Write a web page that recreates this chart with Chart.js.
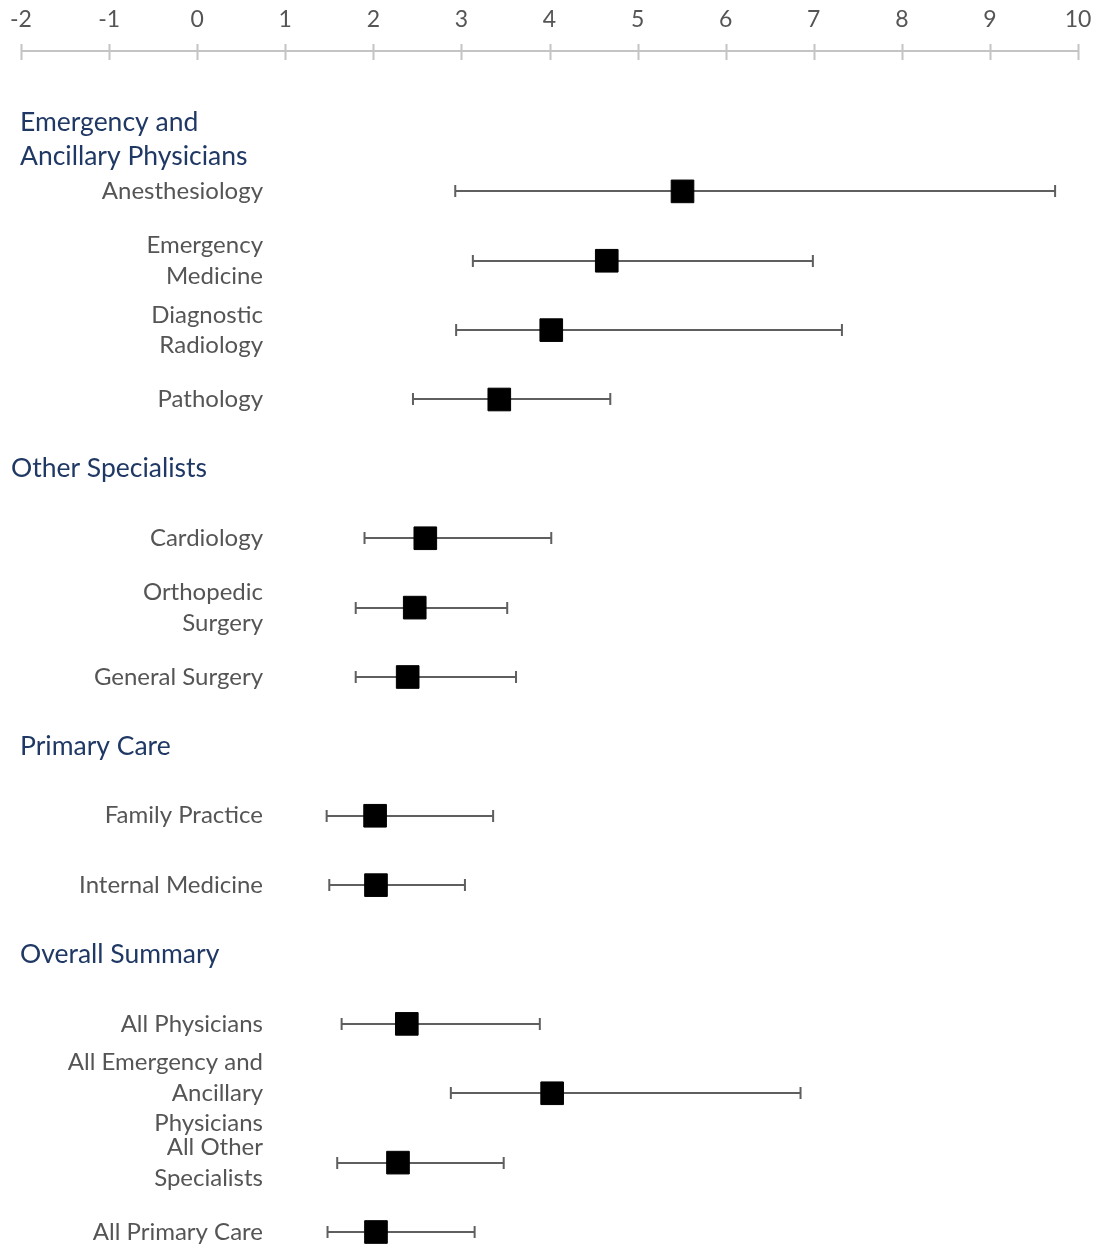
<!DOCTYPE html>
<html>
<head>
<meta charset="utf-8">
<script src="https://cdn.jsdelivr.net/npm/chart.js@4.4.1/dist/chart.umd.min.js"></script>
<style>
  html, body { margin: 0; padding: 0; background: #fff; overflow: hidden; }
  canvas { display: block; }
</style>
</head>
<body>
<canvas id="forest" width="1097" height="1249"></canvas>
<script>
// group headings, then the rows under each group
const groups = [
    ['Emergency and', 'Ancillary Physicians'],
    ['Other Specialists'],
    ['Primary Care'],
    ['Overall Summary']
];
const specialties = [
    ['Anesthesiology'],
    ['Emergency', 'Medicine'],
    ['Diagnostic', 'Radiology'],
    ['Pathology'],
    ['Cardiology'],
    ['Orthopedic', 'Surgery'],
    ['General Surgery'],
    ['Family Practice'],
    ['Internal Medicine'],
    ['All Physicians'],
    ['All Emergency and', 'Ancillary', 'Physicians'],
    ['All Other', 'Specialists'],
    ['All Primary Care']
];
const groupOf   = [0, 0, 0, 0, 1, 1, 1, 2, 2, 3, 3, 3, 3];
const estimates = [5.51, 4.65, 4.02, 3.43, 2.59, 2.47, 2.39, 2.02, 2.03, 2.38, 4.03, 2.28, 2.03];
const lower     = [2.93, 3.13, 2.94, 2.45, 1.90, 1.80, 1.80, 1.47, 1.50, 1.64, 2.88, 1.59, 1.48];
const upper     = [9.74, 6.99, 7.32, 4.69, 4.02, 3.52, 3.62, 3.36, 3.04, 3.89, 6.85, 3.48, 3.15];
const xTicks    = [-2, -1, 0, 1, 2, 3, 4, 5, 6, 7, 8, 9, 10];

const FONT = "Lato, 'Open Sans', sans-serif";
const GRAY_TXT = '#555555';
const NAVY = '#1f3864';

// slot index on the y scale: each group takes one slot for its heading
const headerSlot = [];
const rowSlot = [];
let slot = 0;
groups.forEach((g, gi) => {
    headerSlot.push(slot++);
    groupOf.forEach((v, i) => { if (v === gi) rowSlot[i] = slot++; });
});

// whiskers, caps, top axis and all the text on the left
const forestPlugin = {
    id: 'forest',
    beforeDatasetsDraw(chart) {
        const { ctx, scales: { x, y }, chartArea } = chart;
        ctx.save();

        // axis line with ticks crossing it
        const axY = chartArea.top;
        ctx.strokeStyle = '#c4c4c4';
        ctx.lineWidth = 2;
        ctx.beginPath();
        ctx.moveTo(x.getPixelForValue(-2), axY);
        ctx.lineTo(x.getPixelForValue(10), axY);
        xTicks.forEach(t => {
            const px = Math.round(x.getPixelForValue(t)) + 0.5;
            ctx.moveTo(px, axY - 7);
            ctx.lineTo(px, axY + 9);
        });
        ctx.stroke();

        // error bars
        ctx.strokeStyle = '#5f5f5f';
        ctx.lineWidth = 2;
        estimates.forEach((v, i) => {
            const py = Math.round(y.getPixelForValue(rowSlot[i]));
            const x0 = x.getPixelForValue(lower[i]);
            const x1 = x.getPixelForValue(upper[i]);
            ctx.beginPath();
            ctx.moveTo(x0, py);
            ctx.lineTo(x1, py);
            ctx.moveTo(x0, py - 6);
            ctx.lineTo(x0, py + 6);
            ctx.moveTo(x1, py - 6);
            ctx.lineTo(x1, py + 6);
            ctx.stroke();
        });

        // row labels, right aligned
        ctx.fillStyle = GRAY_TXT;
        ctx.font = `24px ${FONT}`;
        ctx.textAlign = 'right';
        ctx.textBaseline = 'middle';
        const lh = 30.5;
        specialties.forEach((lines, i) => {
            const cy = y.getPixelForValue(rowSlot[i]);
            const start = cy - (lines.length - 1) * lh / 2;
            lines.forEach((t, k) => ctx.fillText(t, 263, start + k * lh));
        });

        // group headings, first line on the slot
        ctx.fillStyle = NAVY;
        ctx.font = `26.5px ${FONT}`;
        ctx.textAlign = 'left';
        groups.forEach((lines, gi) => {
            const cy = y.getPixelForValue(headerSlot[gi]);
            lines.forEach((t, k) => ctx.fillText(t, gi === 1 ? 11 : 20, cy + k * 34));
        });

        ctx.restore();
    }
};

const ctx = document.getElementById('forest').getContext('2d');

new Chart(ctx, {
    type: 'scatter',
    plugins: [forestPlugin],
    data: {
        datasets: [{
            label: 'Estimate',
            data: estimates.map((v, i) => ({ x: v, y: rowSlot[i] })),
            pointStyle: 'rect',
            pointRadius: 16,
            pointHoverRadius: 16,
            backgroundColor: '#000',
            borderColor: '#000',
            borderWidth: 1
        }]
    },
    options: {
        responsive: false,
        animation: false,
        layout: { autoPadding: false, padding: { left: 21, right: 19, top: 0, bottom: 0 } },
        plugins: {
            legend: { display: false },
            tooltip: { enabled: false }
        },
        scales: {
            x: {
                type: 'linear',
                position: 'top',
                min: -2,
                max: 10,
                afterBuildTicks: (s) => { s.ticks = xTicks.map(v => ({ value: v })); },
                afterFit: (s) => {
                    s.height = 51;
                    s.paddingLeft = 0;
                    s.paddingRight = 0;
                    s.paddingTop = 0;
                    s.paddingBottom = 0;
                },
                grid: { display: false, drawTicks: false },
                border: { display: false },
                ticks: {
                    color: GRAY_TXT,
                    padding: 18,
                    font: { family: FONT, size: 23 }
                }
            },
            y: {
                type: 'linear',
                reverse: true,
                min: -1.0234,
                max: 16.245,
                display: false
            }
        }
    }
});
</script>
</body>
</html>
